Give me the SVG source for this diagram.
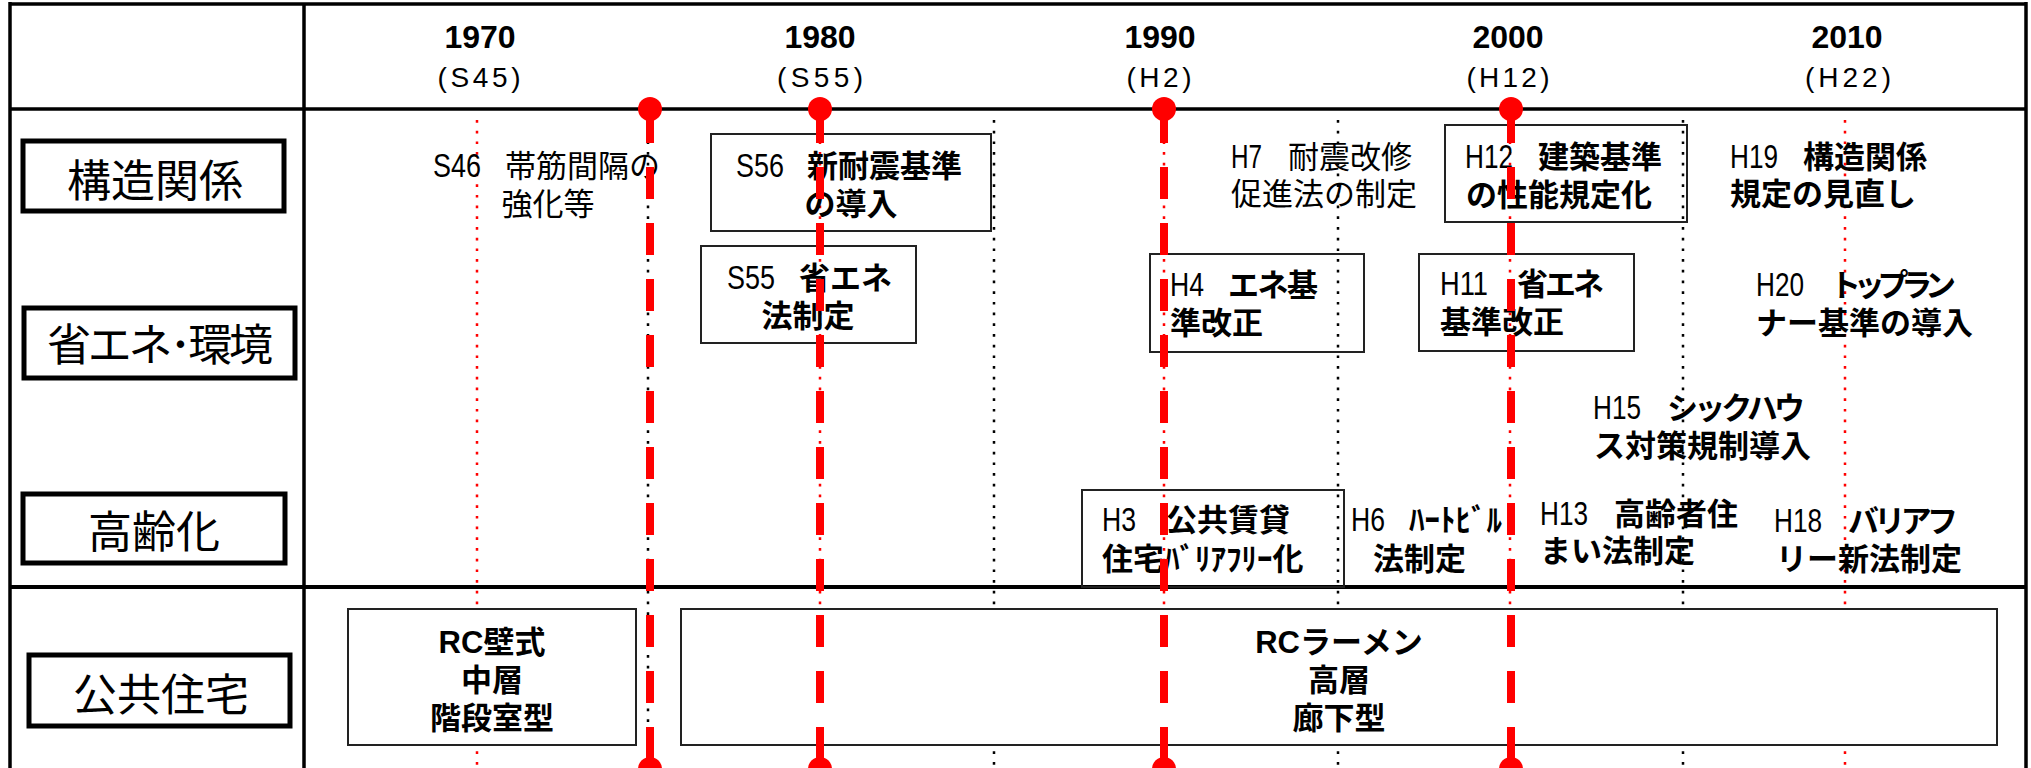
<svg xmlns="http://www.w3.org/2000/svg" width="2031" height="768" viewBox="0 0 2031 768">
<style>
.grid{stroke:#000;stroke-width:3.5;fill:none}
.lbl{fill:none;stroke:#000;stroke-width:5}
.box{fill:none;stroke:#222;stroke-width:2}
.wbox{fill:#fff;stroke:#222;stroke-width:2}
.rdot{stroke:#f00;stroke-width:2.5;stroke-dasharray:2.7 8}
.kdot{stroke:#000;stroke-width:2.5;stroke-dasharray:2.7 8}
.rline{stroke:#f00;stroke-width:8;stroke-dasharray:32 24;fill:none}
.rc{fill:#f00}
text{font-family:"Liberation Sans","Noto Sans CJK JP",sans-serif;fill:#000}
.yr{font-size:32px;font-weight:bold;text-anchor:middle}
.era{font-size:28px;text-anchor:middle}
.rowt{font-size:44px;text-anchor:middle}
.t{font-size:31px}
.p{font-size:34px}
.b{font-weight:bold}
.m{text-anchor:middle}
</style>
<rect x="0" y="0" width="2031" height="768" fill="#fff"/>

<g id="guides">
<line class="rdot" x1="477" y1="120" x2="477" y2="768"/>
<line class="rdot" x1="820" y1="120" x2="820" y2="768"/>
<line class="rdot" x1="1164" y1="120" x2="1164" y2="768"/>
<line class="rdot" x1="1510" y1="120" x2="1510" y2="768"/>
<line class="rdot" x1="1845" y1="120" x2="1845" y2="768"/>
<line class="kdot" x1="648" y1="120" x2="648" y2="768"/>
<line class="kdot" x1="994" y1="120" x2="994" y2="768"/>
<line class="kdot" x1="1338" y1="120" x2="1338" y2="768"/>
<line class="kdot" x1="1683" y1="120" x2="1683" y2="768"/>
</g>

<g id="grid">
<line class="grid" x1="10" y1="4" x2="2026" y2="4"/>
<line class="grid" x1="10" y1="2" x2="10" y2="768"/>
<line class="grid" x1="2026" y1="2" x2="2026" y2="768"/>
<line class="grid" x1="304" y1="4" x2="304" y2="768"/>
<line class="grid" x1="10" y1="109" x2="2026" y2="109"/>
<line class="grid" x1="10" y1="587" x2="2026" y2="587" style="stroke-width:4"/>
</g>

<g id="years">
<text class="yr" x="480" y="48">1970</text>
<text class="era" x="479" y="87" textLength="83" lengthAdjust="spacing">(S45)</text>
<text class="yr" x="820" y="48">1980</text>
<text class="era" x="820" y="87" textLength="86" lengthAdjust="spacing">(S55)</text>
<text class="yr" x="1160" y="48">1990</text>
<text class="era" x="1159" y="87" textLength="65" lengthAdjust="spacing">(H2)</text>
<text class="yr" x="1508" y="48">2000</text>
<text class="era" x="1508" y="87" textLength="83" lengthAdjust="spacing">(H12)</text>
<text class="yr" x="1847" y="48">2010</text>
<text class="era" x="1848" y="87" textLength="86" lengthAdjust="spacing">(H22)</text>
</g>

<g id="row-kozo">
<rect class="lbl" x="23" y="141" width="261" height="70"/>
<text class="rowt" x="155" y="197">構造関係</text>
</g>
<g id="row-shoene">
<rect class="lbl" x="24" y="308" width="271" height="70"/>
<text class="rowt" x="160" y="361" textLength="226" lengthAdjust="spacing">省エネ･環境</text>
</g>
<g id="row-koreika">
<rect class="lbl" x="23" y="494" width="262" height="69"/>
<text class="rowt" x="154" y="548">高齢化</text>
</g>
<g id="row-kokyo">
<rect class="lbl" x="29" y="655" width="261" height="71"/>
<text class="rowt" x="161" y="711">公共住宅</text>
</g>

<g id="s46">
<text class="p" x="433" y="177" textLength="48" lengthAdjust="spacingAndGlyphs">S46</text>
<text class="t" x="505" y="177">帯筋間隔の</text>
<text class="t m" x="548" y="215">強化等</text>
</g>
<g id="s56">
<rect class="box" x="711" y="134" width="280" height="97"/>
<text class="p" x="736" y="177" textLength="48" lengthAdjust="spacingAndGlyphs">S56</text>
<text class="t b" x="807" y="177">新耐震基準</text>
<text class="t b m" x="851" y="215">の導入</text>
</g>
<g id="s55">
<rect class="box" x="701" y="246" width="215" height="97"/>
<text class="p" x="727" y="289" textLength="48" lengthAdjust="spacingAndGlyphs">S55</text>
<text class="t b" x="799" y="289">省エネ</text>
<text class="t b m" x="808" y="327">法制定</text>
</g>
<g id="h7">
<text class="p" x="1231" y="168" textLength="31" lengthAdjust="spacingAndGlyphs">H7</text>
<text class="t" x="1288" y="168">耐震改修</text>
<text class="t" x="1231" y="205">促進法の制定</text>
</g>
<g id="h12">
<rect class="box" x="1445" y="125" width="242" height="97"/>
<text class="p" x="1465" y="168" textLength="48" lengthAdjust="spacingAndGlyphs">H12</text>
<text class="t b" x="1538" y="168">建築基準</text>
<text class="t b" x="1466" y="206">の性能規定化</text>
</g>
<g id="h19">
<text class="p" x="1730" y="168" textLength="48" lengthAdjust="spacingAndGlyphs">H19</text>
<text class="t b" x="1803" y="168">構造関係</text>
<text class="t b" x="1730" y="205">規定の見直し</text>
</g>
<g id="h4">
<rect class="box" x="1150" y="254" width="214" height="98"/>
<text class="p" x="1170" y="296" textLength="34" lengthAdjust="spacingAndGlyphs">H4</text>
<text class="t b" x="1228" y="296" textLength="90" lengthAdjust="spacing">エネ基</text>
<text class="t b" x="1170" y="334">準改正</text>
</g>
<g id="h11">
<rect class="box" x="1419" y="254" width="215" height="97"/>
<text class="p" x="1440" y="295" textLength="48" lengthAdjust="spacingAndGlyphs">H11</text>
<text class="t b" x="1517" y="295" textLength="87" lengthAdjust="spacing">省エネ</text>
<text class="t b" x="1440" y="333">基準改正</text>
</g>
<g id="h20">
<text class="p" x="1756" y="296" textLength="48" lengthAdjust="spacingAndGlyphs">H20</text>
<text class="t b" x="1830" y="296" textLength="126" lengthAdjust="spacing">トップラン</text>
<text class="t b" x="1756" y="334">ナー基準の導入</text>
</g>
<g id="h15">
<text class="p" x="1593" y="419" textLength="48" lengthAdjust="spacingAndGlyphs">H15</text>
<text class="t b" x="1667" y="419" textLength="138" lengthAdjust="spacing">シックハウ</text>
<text class="t b" x="1594" y="457">ス対策規制導入</text>
</g>
<g id="h3">
<rect class="box" x="1082" y="490" width="262" height="97"/>
<text class="p" x="1102" y="531" textLength="34" lengthAdjust="spacingAndGlyphs">H3</text>
<text class="t b" x="1166" y="531">公共賃貸</text>
<text class="t b" x="1102" y="570">住宅ﾊﾞﾘｱﾌﾘｰ化</text>
</g>
<g id="h6">
<text class="p" x="1351" y="531" textLength="34" lengthAdjust="spacingAndGlyphs">H6</text>
<text class="t b" x="1409" y="531">ﾊｰﾄﾋﾞﾙ</text>
<text class="t b" x="1373" y="570">法制定</text>
</g>
<g id="h13">
<text class="p" x="1540" y="525" textLength="48" lengthAdjust="spacingAndGlyphs">H13</text>
<text class="t b" x="1614" y="525">高齢者住</text>
<text class="t b" x="1540" y="562">まい法制定</text>
</g>
<g id="h18">
<text class="p" x="1774" y="532" textLength="48" lengthAdjust="spacingAndGlyphs">H18</text>
<text class="t b" x="1848" y="532" textLength="110" lengthAdjust="spacing">バリアフ</text>
<text class="t b" x="1776" y="570">リー新法制定</text>
</g>

<g id="rc-wall">
<rect class="wbox" x="348" y="609" width="288" height="136"/>
<text class="t b m" x="492" y="653">RC壁式</text>
<text class="t b m" x="492" y="691">中層</text>
<text class="t b m" x="492" y="729">階段室型</text>
</g>
<g id="rc-rahmen">
<rect class="wbox" x="681" y="609" width="1316" height="136"/>
<text class="t b m" x="1339" y="653">RCラーメン</text>
<text class="t b m" x="1339" y="691">高層</text>
<text class="t b m" x="1339" y="729">廊下型</text>
</g>

<g id="connectors">
<line class="rline" x1="650" y1="111" x2="650" y2="769"/>
<line class="rline" x1="820" y1="111" x2="820" y2="769"/>
<line class="rline" x1="1164" y1="111" x2="1164" y2="769"/>
<line class="rline" x1="1511" y1="111" x2="1511" y2="769"/>
<circle class="rc" cx="650" cy="109" r="12"/>
<circle class="rc" cx="820" cy="109" r="12"/>
<circle class="rc" cx="1164" cy="109" r="12"/>
<circle class="rc" cx="1511" cy="109" r="12"/>
<circle class="rc" cx="650" cy="769" r="12"/>
<circle class="rc" cx="820" cy="769" r="12"/>
<circle class="rc" cx="1164" cy="769" r="12"/>
<circle class="rc" cx="1511" cy="769" r="12"/>
</g>
</svg>
